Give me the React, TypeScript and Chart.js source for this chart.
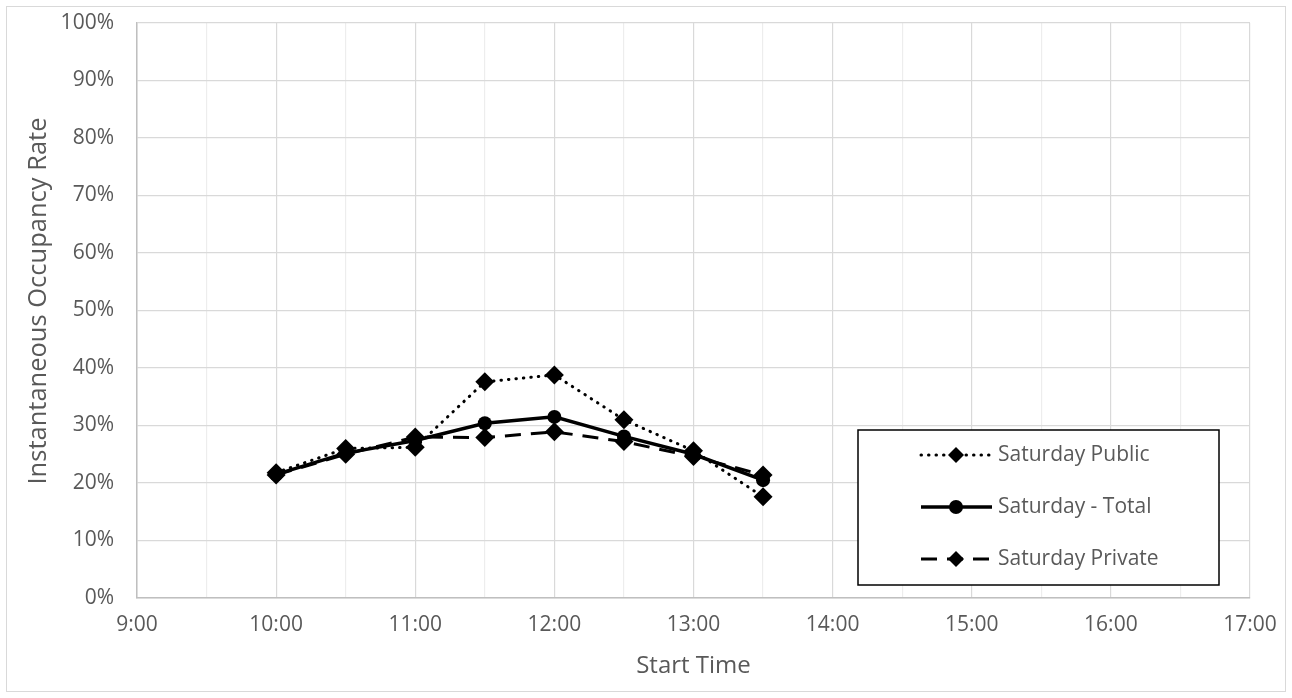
import React, { useEffect, useRef } from "react";
import { Chart, registerables } from "chart.js";

Chart.register(...registerables);

// ---- data ----
const startTimes = ["10:00", "10:30", "11:00", "11:30", "12:00", "12:30", "13:00", "13:30"];
const saturdayPublic = [21.8, 26.0, 26.2, 37.6, 38.8, 31.0, 25.6, 17.6];
const saturdayTotal = [21.5, 25.2, 27.4, 30.4, 31.5, 28.1, 25.0, 20.5];
const saturdayPrivate = [21.4, 25.0, 28.0, 27.9, 28.9, 27.2, 24.6, 21.4];
const seriesLabels = ["Saturday Public", "Saturday - Total", "Saturday Private"];
const xMinHour = 9;
const xMaxHour = 17;
const yTickSuffix = "%";
const xTitle = "Start Time";
const yTitle = "Instantaneous Occupancy Rate";

const FONT = "'Open Sans', 'Noto Sans', sans-serif";
const TEXT = "#595959";
const TICK_SIZE = 21;

const toHours = (t: string) => {
  const [h, m] = t.split(":").map(Number);
  return h + m / 60;
};
const toPoints = (vals: number[]) => startTimes.map((t, i) => ({ x: toHours(t), y: vals[i] }));

const boxLegend = {
  id: "boxLegend",
  afterDraw(chart: any) {
    const ctx: CanvasRenderingContext2D = chart.ctx;
    const bx = 858, by = 430, bw = 361, bh = 155;
    ctx.save();
    ctx.fillStyle = "#ffffff";
    ctx.fillRect(bx, by, bw, bh);
    ctx.strokeStyle = "#000000";
    ctx.lineWidth = 1.5;
    ctx.strokeRect(bx, by, bw, bh);
    chart.data.datasets.forEach((ds: any, i: number) => {
      const y = 455 + i * 52;
      const x0 = 921, x1 = 992, mx = 956;
      ctx.save();
      ctx.strokeStyle = ds.borderColor;
      ctx.lineWidth = ds.borderWidth;
      ctx.lineCap = ds.borderCapStyle || "butt";
      ctx.setLineDash(ds.borderDash || []);
      ctx.beginPath();
      ctx.moveTo(x0, y);
      ctx.lineTo(x1, y);
      ctx.stroke();
      ctx.restore();
      ctx.fillStyle = ds.pointBackgroundColor;
      ctx.beginPath();
      if (ds.pointStyle === "circle") {
        ctx.arc(mx, y, 7, 0, Math.PI * 2);
      } else {
        const r = 8;
        ctx.moveTo(mx - r, y);
        ctx.lineTo(mx, y - r);
        ctx.lineTo(mx + r, y);
        ctx.lineTo(mx, y + r);
        ctx.closePath();
      }
      ctx.fill();
      ctx.fillStyle = TEXT;
      ctx.font = `${TICK_SIZE}px ${FONT}`;
      ctx.textBaseline = "middle";
      ctx.textAlign = "left";
      ctx.fillText(ds.label, 998, y);
    });
    // rotated y-axis title
    ctx.save();
    ctx.translate(39, 301);
    ctx.rotate(-Math.PI / 2);
    ctx.fillStyle = TEXT;
    ctx.font = `25.5px ${FONT}`;
    ctx.textAlign = "center";
    ctx.textBaseline = "middle";
    ctx.fillText(yTitle, 0, 0);
    ctx.restore();
    ctx.restore();
  },
};

const outerBorder = {
  id: "outerBorder",
  beforeDraw(chart: any) {
    const ctx: CanvasRenderingContext2D = chart.ctx;
    ctx.save();
    ctx.fillStyle = "#ffffff";
    ctx.fillRect(0, 0, chart.width, chart.height);
    ctx.strokeStyle = "#d9d9d9";
    ctx.lineWidth = 1;
    ctx.strokeRect(6.5, 6.5, chart.width - 13, chart.height - 13);
    ctx.restore();
  },
};

export default function App() {
  const ref = useRef<HTMLCanvasElement | null>(null);
  useEffect(() => {
    document.body.style.margin = "0";
    if (!ref.current) return;
    const chart = new Chart(ref.current, {
      type: "line",
      data: {
        datasets: [
          {
            label: seriesLabels[0],
            data: toPoints(saturdayPublic),
            borderColor: "#000000",
            borderWidth: 3,
            borderDash: [0.5, 7],
            borderCapStyle: "round",
            pointStyle: "rectRot",
            pointRadius: 9.5,
            pointBackgroundColor: "#000000",
            pointBorderColor: "#000000",
            pointBorderWidth: 0,
            tension: 0,
          },
          {
            label: seriesLabels[1],
            data: toPoints(saturdayTotal),
            borderColor: "#000000",
            borderWidth: 3.5,
            borderDash: [],
            pointStyle: "circle",
            pointRadius: 7,
            pointBackgroundColor: "#000000",
            pointBorderColor: "#000000",
            pointBorderWidth: 0,
            tension: 0,
          },
          {
            label: seriesLabels[2],
            data: toPoints(saturdayPrivate),
            borderColor: "#000000",
            borderWidth: 3,
            borderDash: [16, 10],
            pointStyle: "rectRot",
            pointRadius: 9.5,
            pointBackgroundColor: "#000000",
            pointBorderColor: "#000000",
            pointBorderWidth: 0,
            tension: 0,
          },
        ] as any,
      },
      options: {
        responsive: true,
        maintainAspectRatio: false,
        animation: false,
        layout: { padding: { left: 0, top: 23, right: 42, bottom: 0 } },
        plugins: { legend: { display: false }, tooltip: { enabled: false } },
        scales: {
          x: {
            type: "linear",
            min: xMinHour,
            max: xMaxHour,
            ticks: {
              stepSize: 0.5,
              autoSkip: false,
              maxRotation: 0,
              padding: 14,
              color: TEXT,
              font: { family: FONT, size: TICK_SIZE },
              callback: (v: any) => (Number.isInteger(v) ? `${v}:00` : ""),
            },
            grid: {
              drawTicks: false,
              color: (c: any) => (c.tick && Number.isInteger(c.tick.value) ? "#d9d9d9" : "#ededed"),
              lineWidth: 1.2,
            },
            border: { color: "#bfbfbf", width: 1.5 },
            title: {
              display: true,
              text: xTitle,
              color: TEXT,
              font: { family: FONT, size: 24 },
              padding: { top: 0, bottom: 17 },
            },
            afterFit: (s: any) => {
              s.height = 100;
            },
          },
          y: {
            min: 0,
            max: 100,
            ticks: {
              stepSize: 10,
              padding: 23,
              color: TEXT,
              font: { family: FONT, size: TICK_SIZE },
              callback: (v: any) => `${v}${yTickSuffix}`,
            },
            grid: { drawTicks: false, color: "#d9d9d9", lineWidth: 1.2 },
            border: { color: "#bfbfbf", width: 1.5 },
            title: { display: false },
            afterFit: (s: any) => {
              s.width = 137;
              s.paddingTop = 0;
              s.paddingBottom = 0;
            },
          },
        },
      } as any,
      plugins: [outerBorder, boxLegend],
    });
    return () => chart.destroy();
  }, []);
  return (
    <div style={{ position: "relative", width: 1292, height: 698 }}>
      <canvas ref={ref} />
    </div>
  );
}
